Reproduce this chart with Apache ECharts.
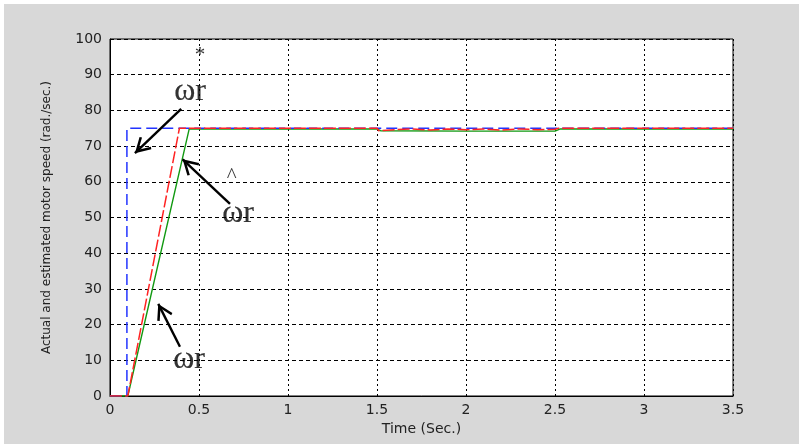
<!DOCTYPE html>
<html>
<head>
<meta charset="utf-8">
<script src="https://cdn.jsdelivr.net/npm/echarts@6/dist/echarts.min.js"></script>
<style>
  html, body { margin: 0; padding: 0; background: #ffffff; }
  #chart { position: absolute; left: 4px; top: 4px; width: 795px; height: 440px; background: #d8d8d8; }
</style>
</head>
<body>
<div id="chart"></div>
<script>
// Reference speed command (rad/s) vs time (s)
const refTime  = [0, 0.095, 0.095, 3.5];
const refSpeed = [0, 0, 75, 75];

// Estimated motor speed
const estTime  = [0, 0.1, 0.39, 1.5, 1.51, 1.6, 1.7, 1.8, 1.9, 2.0, 2.1, 2.2, 2.3, 2.4, 2.5, 2.52, 3.5];
const estSpeed = [0, 0, 75, 75, 74.3, 74.6, 74.8, 74.5, 74.8, 74.6, 74.8, 74.5, 74.8, 74.6, 74.7, 75, 75];

// Actual motor speed
const actTime  = [0, 0.1, 0.445, 1.5, 1.52, 2.0, 2.5, 2.53, 3.5];
const actSpeed = [0, 0, 74.8, 74.8, 74.3, 74.2, 74.2, 74.8, 74.8];

// Axis ticks
const xTicks = [0, 0.5, 1, 1.5, 2, 2.5, 3, 3.5];
const yTicks = [0, 10, 20, 30, 40, 50, 60, 70, 80, 90, 100];

// Annotation texts: [time, speed, text]
const noteTexts = [
  [0.506, 95.3, '*'],
  [0.45, 85.2, 'ωr'],
  [0.684, 61.5, '^'],
  [0.72, 51.0, 'ωr'],
  [0.444, 10.3, 'ωr']
];
// Annotation arrows: [fromTime, fromSpeed, toTime, toSpeed]
const noteArrows = [
  [0.40, 80.4, 0.14, 68.0],
  [0.674, 53.8, 0.408, 66.3],
  [0.393, 13.8, 0.271, 25.8]
];

const pair = (t, v) => t.map((x, i) => [x, v[i]]);
const chevron = 'path://M10,0 L20,16 L17.6,17.6 L10,5.4 L2.4,17.6 L0,16 Z';
const isSmallMark = s => s === '*' || s === '^';

const chart = echarts.init(document.getElementById('chart'), null, { renderer: 'canvas' });
chart.setOption({
  animation: false,
  backgroundColor: 'transparent',
  grid: {
    left: 106, top: 35, right: 66, bottom: 48,
    show: true, backgroundColor: '#ffffff', borderColor: '#000000', borderWidth: 1
  },
  xAxis: {
    type: 'value', min: xTicks[0], max: xTicks[xTicks.length - 1], interval: 0.5,
    name: 'Time (Sec.)', nameLocation: 'middle', nameGap: 25,
    nameTextStyle: { fontFamily: 'DejaVu Sans', fontSize: 14, color: '#222' },
    axisLine: { lineStyle: { color: '#000', width: 1 } },
    axisTick: { show: false },
    axisLabel: { fontFamily: 'DejaVu Sans', fontSize: 14, color: '#222', margin: 7 },
    splitLine: { show: true, lineStyle: { color: '#000', width: 1, type: [2, 3] } }
  },
  yAxis: {
    type: 'value', min: yTicks[0], max: yTicks[yTicks.length - 1], interval: 10,
    name: 'Actual and estimated motor speed (rad./sec.)', nameLocation: 'middle', nameGap: 57,
    nameTextStyle: { fontFamily: 'DejaVu Sans', fontSize: 12, color: '#222' },
    axisLine: { lineStyle: { color: '#000', width: 1 } },
    axisTick: { show: false },
    axisLabel: { fontFamily: 'DejaVu Sans', fontSize: 14, color: '#222', margin: 8 },
    splitLine: { show: true, lineStyle: { color: '#000', width: 1, type: [4, 3] } }
  },
  series: [
    {
      name: 'actual', type: 'line', data: pair(actTime, actSpeed), symbol: 'none',
      lineStyle: { color: '#119911', width: 1.4 }, z: 3
    },
    {
      name: 'reference', type: 'line', data: pair(refTime, refSpeed), symbol: 'none',
      lineStyle: { color: '#2233ff', width: 1.5, type: [11, 5] }, z: 4
    },
    {
      name: 'estimated', type: 'line', data: pair(estTime, estSpeed), symbol: 'none',
      lineStyle: { color: '#ff2222', width: 1.5, type: [12, 3] }, z: 5
    },
    {
      name: 'notes', type: 'scatter', symbolSize: 0, z: 10,
      data: noteTexts.map(n => ({
        value: [n[0], n[1]],
        label: isSmallMark(n[2])
          ? { formatter: n[2], fontSize: 21, textBorderWidth: 0 }
          : { formatter: n[2], fontSize: 32, textBorderWidth: 0.2 }
      })),
      label: {
        show: true, position: 'inside', color: '#000',
        fontFamily: 'Liberation Serif', textBorderColor: '#000'
      },
      markLine: {
        silent: true, animation: false,
        symbol: ['none', chevron], symbolSize: [17, 16],
        symbolOffset: [[0, 0], [0, '50%']],
        label: { show: false },
        lineStyle: { color: '#000', width: 2.4, type: 'solid' },
        data: noteArrows.map(a => [{ coord: [a[0], a[1]] }, { coord: [a[2], a[3]] }])
      }
    }
  ]
});
</script>
</body>
</html>
